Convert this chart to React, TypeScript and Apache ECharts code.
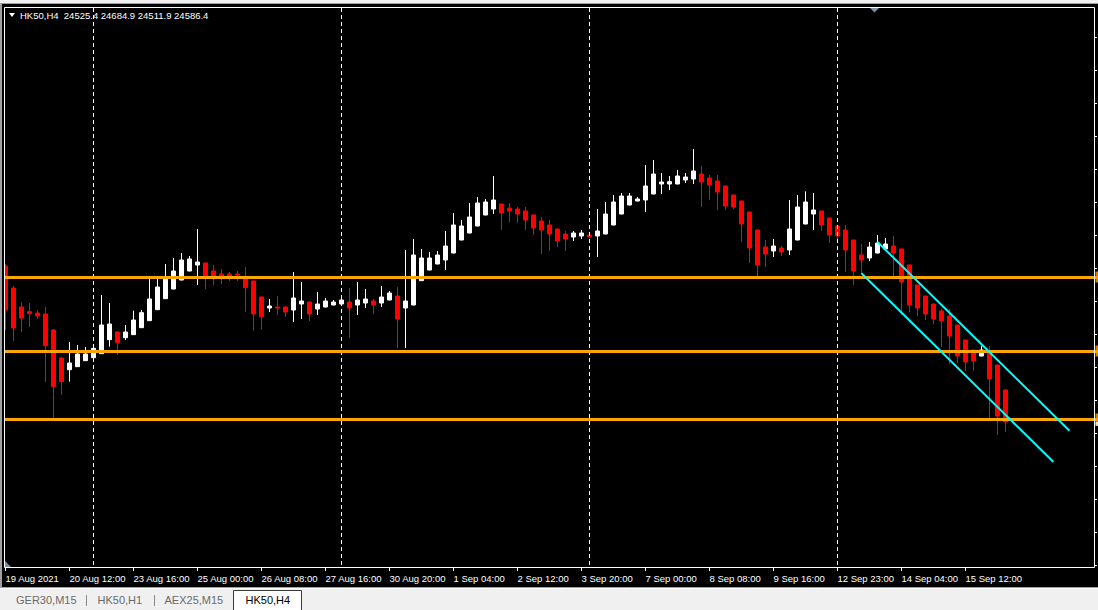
import React, { useEffect, useRef } from "react";
import * as echarts from "echarts";

// ---------- data ----------
const symbolTitle = "HK50,H4";
const headerValues = ["24525.4", "24684.9", "24511.9", "24586.4"];

const tickLabels = [
  "19 Aug 2021", "20 Aug 12:00", "23 Aug 16:00", "25 Aug 00:00", "26 Aug 08:00",
  "27 Aug 16:00", "30 Aug 20:00", "1 Sep 04:00", "2 Sep 12:00", "3 Sep 20:00",
  "7 Sep 00:00", "8 Sep 08:00", "9 Sep 16:00", "12 Sep 23:00", "14 Sep 04:00", "15 Sep 12:00",
];

const opens = [
  25554, 25422, 25308, 25280, 25272, 25266, 25170, 25002, 24932, 24950,
  24986, 25004, 25028, 25112, 25158, 25124, 25142, 25184, 25226, 25292,
  25358, 25416, 25470, 25524, 25560, 25572, 25524, 25506, 25506, 25506,
  25476, 25464, 25368, 25302, 25308, 25308, 25290, 25326, 25338, 25296,
  25308, 25320, 25326, 25338, 25320, 25332, 25344, 25332, 25350, 25374,
  25302, 25320, 25466, 25530, 25566, 25590, 25632, 25710, 25752, 25794,
  25860, 25896, 25926, 25902, 25896, 25884, 25860, 25824, 25800, 25776,
  25746, 25728, 25734, 25740, 25734, 25746, 25800, 25866, 25920, 25944,
  25950, 25986, 26046, 26046, 26046, 26070, 26076, 26106, 26082, 26064,
  26034, 25980, 25944, 25878, 25770, 25668, 25644, 25662, 25650, 25710,
  25806, 25866, 25884, 25842, 25794, 25770, 25710, 25620, 25602, 25632,
  25656, 25674, 25656, 25560, 25440, 25374, 25326, 25284, 25254, 25200,
  25110, 25050, 25014, 25032, 24960, 24810,
];
const closes = [
  25290, 25182, 25242, 25268, 25254, 25076, 24830, 24860, 24972, 25026,
  25026, 25060, 25200, 25206, 25094, 25158, 25230, 25274, 25356, 25428,
  25476, 25524, 25590, 25596, 25578, 25494, 25494, 25494, 25494, 25500,
  25424, 25266, 25250, 25314, 25302, 25278, 25362, 25344, 25266, 25326,
  25344, 25338, 25350, 25302, 25350, 25356, 25320, 25368, 25392, 25236,
  25344, 25620, 25602, 25602, 25620, 25674, 25800, 25794, 25848, 25932,
  25938, 25950, 25872, 25884, 25866, 25830, 25782, 25770, 25746, 25704,
  25716, 25752, 25752, 25728, 25764, 25866, 25938, 25974, 25974, 25956,
  26034, 26106, 26058, 26060, 26094, 26088, 26124, 26058, 26040, 25998,
  25914, 25908, 25806, 25662, 25560, 25626, 25674, 25638, 25776, 25908,
  25938, 25890, 25800, 25740, 25734, 25650, 25524, 25590, 25668, 25692,
  25686, 25632, 25458, 25320, 25302, 25266, 25236, 25224, 25134, 25014,
  24978, 24984, 25050, 24876, 24654, 24618,
];
const lows = [
  25170, 25104, 25158, 25188, 25236, 24858, 24644, 24782, 24860, 24948,
  24984, 25002, 25026, 25070, 25022, 25110, 25140, 25182, 25224, 25290,
  25356, 25414, 25468, 25522, 25440, 25416, 25440, 25446, 25464, 25464,
  25280, 25166, 25174, 25278, 25260, 25248, 25218, 25236, 25224, 25260,
  25306, 25318, 25324, 25122, 25260, 25302, 25266, 25308, 25348, 25062,
  25062, 25318, 25464, 25528, 25564, 25530, 25630, 25708, 25750, 25792,
  25858, 25866, 25770, 25818, 25812, 25770, 25740, 25626, 25644, 25668,
  25644, 25704, 25716, 25722, 25608, 25744, 25798, 25864, 25918, 25942,
  25878, 25984, 25986, 26010, 26044, 26052, 26046, 25908, 25950, 25890,
  25890, 25896, 25698, 25572, 25494, 25548, 25608, 25614, 25620, 25708,
  25804, 25770, 25764, 25692, 25710, 25518, 25440, 25506, 25584, 25630,
  25654, 25494, 25260, 25278, 25254, 25230, 25206, 25068, 24966, 24972,
  24924, 24924, 25012, 24642, 24540, 24558,
];
const highs = [
  25566, 25434, 25338, 25332, 25290, 25308, 25176, 25008, 25098, 25080,
  25068, 25066, 25380, 25332, 25164, 25200, 25286, 25290, 25476, 25476,
  25566, 25602, 25632, 25614, 25776, 25574, 25560, 25536, 25518, 25524,
  25548, 25466, 25370, 25356, 25374, 25314, 25518, 25458, 25340, 25398,
  25362, 25350, 25356, 25422, 25458, 25416, 25356, 25434, 25404, 25428,
  25650, 25716, 25656, 25638, 25644, 25764, 25872, 25830, 25932, 25968,
  25956, 26094, 25928, 25932, 25908, 25908, 25862, 25848, 25830, 25778,
  25764, 25764, 25770, 25746, 25896, 25938, 25980, 25992, 25992, 25968,
  26160, 26190, 26112, 26094, 26130, 26112, 26256, 26154, 26100, 26100,
  26036, 25982, 25946, 25880, 25772, 25710, 25716, 25674, 25950, 25980,
  26002, 25992, 25886, 25844, 25796, 25800, 25712, 25686, 25698, 25740,
  25722, 25734, 25658, 25562, 25442, 25376, 25328, 25296, 25296, 25202,
  25112, 25052, 25074, 25074, 24962, 24812,
];

const levels = [25488, 25044, 24636];
const upperChannel = [[109, 25698], [133, 24566]];
const lowerChannel = [[107, 25510], [131, 24378]];
const separatorBars = [11, 42, 73, 104];
const inactiveTabs = ["GER30,M15", "HK50,H1", "AEX25,M15"];
const activeTab = "HK50,H4";
const totalSlots = 137; // bars plus the chart-shift space

const FONT = "'Liberation Sans', Arial, sans-serif";

export default function App() {
  const ref = useRef<HTMLDivElement>(null);

  useEffect(() => {
    if (!ref.current) return;
    const chart = echarts.init(ref.current, undefined, { renderer: "svg" });

    const cats = Array.from({ length: totalSlots }, (_, i) => String(i));
    const candles = opens.map((o, i) => [o, closes[i], lows[i], highs[i]]);
    const showTick = (i: number) => i % 8 === 0 && i / 8 < tickLabels.length;
    const lastIdx = totalSlots - 1;

    const tabXs = [16, 97.5, 164.5];
    const graphic: any[] = [
      // top chrome
      { type: "rect", z: 100, shape: { x: 0, y: 0, width: 1098, height: 3 }, style: { fill: "#f0f0f0" } },
      { type: "rect", z: 100, shape: { x: 0, y: 3, width: 1098, height: 1 }, style: { fill: "#a0a0a0" } },
      { type: "rect", z: 100, shape: { x: 0, y: 4, width: 1098, height: 3 }, style: { fill: "#000" } },
      // left chrome
      { type: "rect", z: 100, shape: { x: 0, y: 3, width: 2, height: 586 }, style: { fill: "#a0a0a0" } },
      { type: "rect", z: 100, shape: { x: 2, y: 4, width: 2, height: 584 }, style: { fill: "#000" } },
      // frame
      { type: "rect", z: 101, shape: { x: 4.5, y: 7.5, width: 1090, height: 560 }, style: { fill: "none", stroke: "#ffffff", lineWidth: 1 } },
      // header
      { type: "polygon", z: 102, shape: { points: [[9, 13], [15, 13], [12, 17]] }, style: { fill: "#ffffff" } },
      {
        type: "text", z: 102, x: 20, y: 15,
        style: { text: symbolTitle + "  " + headerValues.join(" "), fill: "#ffffff", font: "9.5px " + FONT, verticalAlign: "middle" },
      },
      // chart-shift marker
      { type: "polygon", z: 102, shape: { points: [[870, 8], [879, 8], [874.5, 12.5]] }, style: { fill: "#7f8fa3" } },
      // scale marker at bottom-left
      { type: "polygon", z: 102, shape: { points: [[5, 561], [5, 567], [11, 567]] }, style: { fill: "#7f8fa3" } },
      // bottom chrome / tab bar
      { type: "rect", z: 100, shape: { x: 0, y: 587, width: 1098, height: 1 }, style: { fill: "#a0a0a0" } },
      { type: "rect", z: 100, shape: { x: 0, y: 588, width: 1098, height: 1 }, style: { fill: "#ffffff" } },
      { type: "rect", z: 100, shape: { x: 0, y: 589, width: 1098, height: 21 }, style: { fill: "#f0f0f0" } },
      { type: "line", z: 101, shape: { x1: 86.5, y1: 595, x2: 86.5, y2: 606 }, style: { stroke: "#8a8a8a", lineWidth: 1 } },
      { type: "line", z: 101, shape: { x1: 154.5, y1: 595, x2: 154.5, y2: 606 }, style: { stroke: "#8a8a8a", lineWidth: 1 } },
      { type: "rect", z: 101, shape: { x: 233.5, y: 590.5, width: 68, height: 21 }, style: { fill: "#ffffff", stroke: "#3a3a3a", lineWidth: 1 } },
      {
        type: "text", z: 102, x: 245.5, y: 600,
        style: { text: activeTab, fill: "#000000", font: "11px " + FONT, verticalAlign: "middle" },
      },
      ...inactiveTabs.map((t, i) => ({
        type: "text", z: 102, x: tabXs[i], y: 600,
        style: { text: t, fill: "#6a6a6a", font: "11px " + FONT, verticalAlign: "middle" },
      })),
    ];

    const option: any = {
      animation: false,
      backgroundColor: "#000000",
      grid: { left: 1.5, top: 4, width: 1096, height: 561, show: false },
      xAxis: {
        type: "category",
        data: cats,
        boundaryGap: true,
        offset: 3,
        axisLine: { show: false },
        axisTick: { show: true, alignWithLabel: true, length: 3, interval: showTick, lineStyle: { color: "#ffffff", width: 1 } },
        axisLabel: {
          show: true,
          interval: showTick,
          formatter: (_v: string, i: number) => (i % 8 === 0 ? tickLabels[i / 8] ?? "" : ""),
          color: "#ffffff",
          fontSize: 9.5,
          fontFamily: FONT,
          align: "left",
          margin: 5,
        },
        splitLine: { show: false },
      },
      yAxis: {
        type: "value",
        position: "right",
        min: 23760,
        max: 27126,
        interval: 198,
        offset: -3.5,
        axisLine: { show: false },
        axisTick: { show: true, length: 3, lineStyle: { color: "#ffffff" } },
        axisLabel: { show: false },
        splitLine: { show: false },
      },
      series: [
        {
          type: "line",
          data: [],
          z: 1,
          markLine: {
            silent: true,
            symbol: ["none", "none"],
            label: { show: false },
            lineStyle: { color: "#ffffff", type: [4, 3], width: 1 },
            data: separatorBars.map((i) => ({ xAxis: String(i) })),
          },
        },
        {
          type: "candlestick",
          data: candles,
          barWidth: 4,
          z: 2,
          itemStyle: { color: "#ffffff", color0: "#ff0000", borderColor: "#ffffff", borderColor0: "#ff0000", borderWidth: 1 },
          markLine: {
            silent: true,
            symbol: ["none", "none"],
            label: { show: false },
            lineStyle: { color: "#ffa500", width: 3, type: "solid" },
            data: levels.map((v) => ({ yAxis: v })),
          },
        },
        { type: "line", data: upperChannel, symbol: "none", z: 5, lineStyle: { color: "#00ffff", width: 2 } },
        { type: "line", data: lowerChannel, symbol: "none", z: 5, lineStyle: { color: "#00ffff", width: 2 } },
        {
          type: "scatter",
          data: levels.map((v) => [lastIdx, v]),
          symbol: "rect",
          symbolSize: [3, 11],
          symbolOffset: [3.5, 0],
          clip: false,
          z: 6,
          itemStyle: { color: "#ffa500" },
        },
        {
          type: "scatter",
          data: [[lastIdx, closes[closes.length - 1]]],
          symbol: "rect",
          symbolSize: [3, 4],
          symbolOffset: [3.5, 2],
          clip: false,
          z: 7,
          itemStyle: { color: "#ffffff" },
        },
      ],
      graphic,
    };

    chart.setOption(option);
    return () => chart.dispose();
  }, []);

  return <div ref={ref} style={{ position: "fixed", left: 0, top: 0, width: 1098, height: 610 }} />;
}
